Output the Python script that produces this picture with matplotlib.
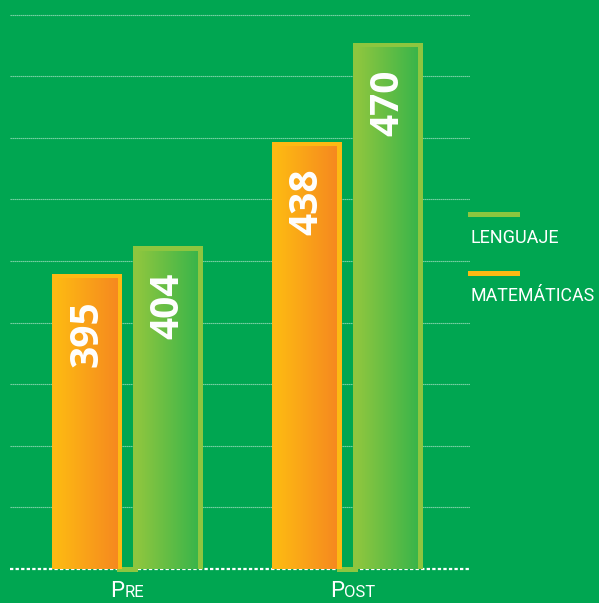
import numpy as np
import matplotlib
matplotlib.use("Agg")
import matplotlib.pyplot as plt
from matplotlib.colors import LinearSegmentedColormap
from matplotlib.patches import Rectangle

# data
groups = ["Pre", "Post"]
matematicas = [395, 438]
lenguaje = [404, 470]
series_names = ["LENGUAJE", "MATEMÁTICAS"]
y_min, y_max, y_step = 300, 480, 20

BG = "#00a651"
ORANGE_FRAME = "#fdb913"
GREEN_FRAME = "#8dc63f"
orange_cmap = LinearSegmentedColormap.from_list("o", ["#fdb913", "#f6891f"])
green_cmap = LinearSegmentedColormap.from_list("g", ["#8dc63f", "#3ab54a"])

FONT = ["Roboto", "DejaVu Sans"]

W, H = 599, 603
fig = plt.figure(figsize=(W / 100, H / 100), dpi=100, facecolor=BG)
ax_left, ax_right, ax_top, ax_bottom = 10, 470, 14.7, 569
ax = fig.add_axes([ax_left / W, (H - ax_bottom) / H,
                   (ax_right - ax_left) / W, (ax_bottom - ax_top) / H])
ax.set_facecolor(BG)
ax.set_ylim(y_min, y_max)
x = np.arange(len(groups))
ax.set_xlim(-0.534, 1.559)
for s in ax.spines.values():
    s.set_visible(False)
ax.set_xticks([])
ax.set_yticks([])

# pixel -> data conversion
px_x = (1.559 + 0.534) / (ax_right - ax_left)
px_y = (y_max - y_min) / (ax_bottom - ax_top)

# gridlines
grid_vals = np.arange(y_min + y_step, y_max + 1, y_step)
ax.hlines(grid_vals, -0.534, 1.559, colors="white", alpha=0.55, lw=0.8,
          linestyles=(0, (1.2, 0.6)), clip_on=False, zorder=1)
ax.hlines([y_min], -0.534, 1.559, colors="white", lw=1.6,
          linestyles=(0, (1.5, 1.0)), clip_on=False, zorder=1)

bar_w = 70 * px_x
offset = 0.184
border_x = 5 * px_x
border_y = 5 * px_y
grad = np.linspace(0, 1, 256).reshape(1, -1)


def draw_bar(xc, val, frame_color, cmap):
    x0 = xc - bar_w / 2
    top = val + 2.5 * px_y
    ax.add_patch(Rectangle((x0, y_min), bar_w, top - y_min,
                           facecolor=frame_color, edgecolor="none", zorder=3))
    ax.imshow(grad, cmap=cmap, aspect="auto", zorder=4,
              extent=(x0 + border_x, x0 + bar_w - border_x, y_min, top - border_y))
    ax.text(xc, val - 24 * px_y, str(val), rotation=90, ha="center", va="top",
            color="white", fontsize=28, fontweight="bold",
            family=["Open Sans", "DejaVu Sans"], zorder=5)


label_y = y_min - 28.5 * px_y
first_letters = []
for i in range(len(groups)):
    draw_bar(x[i] - offset, matematicas[i], ORANGE_FRAME, orange_cmap)
    draw_bar(x[i] + offset, lenguaje[i], GREEN_FRAME, green_cmap)
    # small connector at the foot of the pair
    cx0 = x[i] - offset + bar_w / 2 - border_x
    cx1 = x[i] + offset - bar_w / 2 + border_x
    ax.add_patch(Rectangle((cx0, y_min - 3 * px_y), cx1 - cx0, 5 * px_y,
                           facecolor=GREEN_FRAME, edgecolor="none",
                           clip_on=False, zorder=2))
    # small-caps category label: big first letter
    t1 = ax.text(x[i] - 0.078, label_y, groups[i][0], ha="left",
                 va="baseline", color="white", fontsize=16, family=FONT)
    first_letters.append(t1)

ax.set_xlim(-0.534, 1.559)
ax.set_ylim(y_min, y_max)

# rest of the small-caps label placed right after the first letter
fig.canvas.draw()
renderer = fig.canvas.get_renderer()
for i, t1 in enumerate(first_letters):
    x1 = t1.get_window_extent(renderer).x1
    xd = ax.transData.inverted().transform((x1, 0))[0]
    ax.text(xd, label_y, groups[i][1:].upper(), ha="left",
            va="baseline", color="white", fontsize=12, family=FONT)

# legend
fig.add_artist(plt.Line2D([470 / W, 517 / W], [1 - 213.5 / H, 1 - 213.5 / H],
                          color=GREEN_FRAME, lw=3.6))
fig.text(471 / W, 1 - 243 / H, series_names[0], color="white", fontsize=13,
         family=FONT, ha="left", va="baseline")
fig.add_artist(plt.Line2D([470 / W, 517 / W], [1 - 272.5 / H, 1 - 272.5 / H],
                          color=ORANGE_FRAME, lw=3.6))
fig.text(471 / W, 1 - 301 / H, series_names[1], color="white", fontsize=12.8,
         family=FONT, ha="left", va="baseline")

fig.savefig("out.png", dpi=100, facecolor=BG)
